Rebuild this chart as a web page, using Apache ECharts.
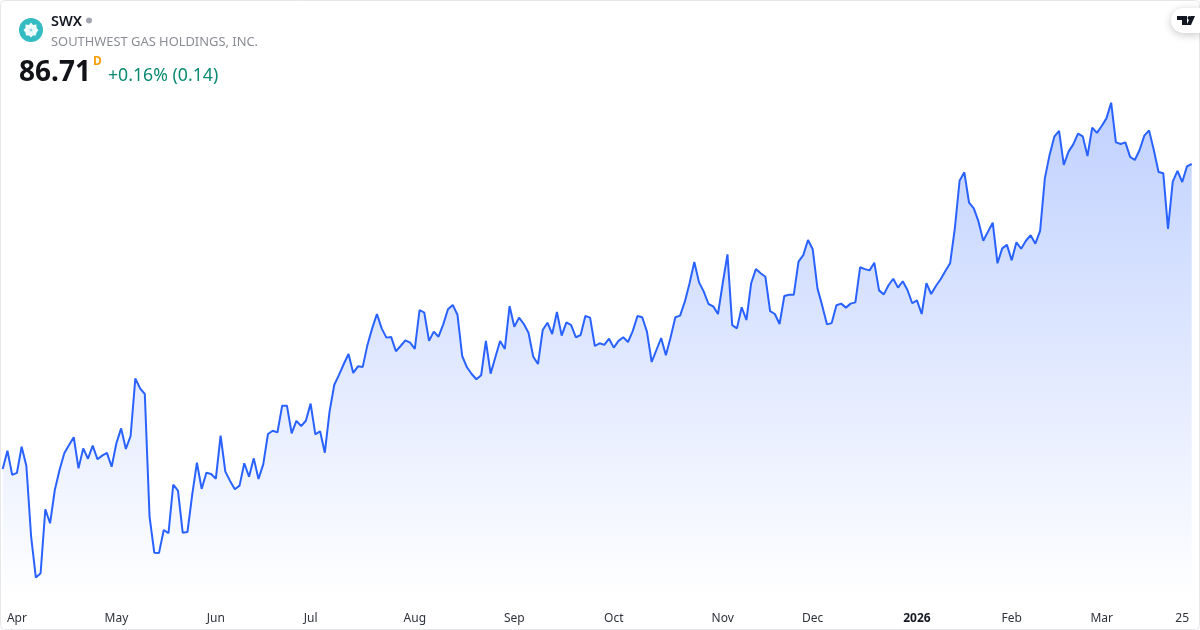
<!DOCTYPE html>
<html>
<head>
<meta charset="utf-8">
<style>html,body{margin:0;padding:0;background:#fff}#c{width:1200px;height:630px}</style>
<script src="https://cdn.jsdelivr.net/npm/echarts@6/dist/echarts.min.js"></script>
</head>
<body>
<div id="c"></div>
<script>
const prices = [
69.94,70.94,69.61,69.72,71.16,70.10,66.21,63.96,64.20,67.72,66.95,68.78,69.88,70.80,71.26,71.68,69.97,71.07,70.50,71.22,
70.47,70.67,70.82,70.06,71.35,72.17,71.04,71.75,74.92,74.37,74.06,67.31,65.33,65.32,66.58,66.40,69.07,68.74,66.43,66.47,
68.51,70.28,68.84,69.73,69.66,69.40,71.77,69.79,69.28,68.82,69.02,70.25,69.51,70.52,69.39,70.19,71.86,72.04,71.95,73.42,
73.42,71.90,72.58,72.30,72.59,73.53,71.84,72.01,70.83,73.09,74.57,75.11,75.71,76.26,75.22,75.58,75.55,76.76,77.67,78.46,
77.67,77.16,77.20,76.41,76.70,77.01,76.88,76.54,78.68,78.53,76.98,77.49,77.21,77.89,78.72,78.96,78.42,76.15,75.53,75.16,
74.87,75.09,76.98,75.18,76.08,76.98,76.54,78.90,77.76,78.26,77.91,77.43,76.11,75.71,77.58,77.98,77.36,78.57,77.27,78.00,
77.85,77.18,77.30,78.35,78.26,76.70,76.85,76.76,77.10,76.61,76.98,77.18,76.92,77.52,78.35,78.28,77.49,75.82,76.48,77.14,
76.19,77.18,78.28,78.37,79.14,80.15,81.32,80.20,79.69,79.01,78.88,78.46,80.15,81.74,77.85,77.67,78.83,78.13,80.15,80.93,
80.70,80.51,78.62,78.46,77.91,79.45,79.52,79.52,81.34,81.70,82.53,82.02,79.87,78.92,77.89,77.96,78.94,79.03,78.81,79.03,
79.10,81.03,80.93,80.86,81.28,79.76,79.54,80.04,80.40,79.91,80.26,79.78,79.05,79.21,78.46,80.16,79.56,80.00,80.37,80.82,
81.25,83.17,85.79,86.25,84.58,84.27,83.54,82.49,82.99,83.48,81.25,82.07,82.26,81.41,82.40,82.05,82.49,82.79,82.33,83.03,
85.92,87.21,88.21,88.53,86.66,87.39,87.79,88.38,88.23,87.15,88.71,88.42,88.80,89.22,90.08,87.90,87.81,87.90,87.10,86.93,
87.48,88.27,88.56,87.48,86.27,86.20,83.14,85.74,86.33,85.72,86.58,86.71
];
const tickIndex = [3,24,45,65,87,108,129,152,171,193,213,232,249];
const tickLabels = ['Apr','May','Jun','Jul','Aug','Sep','Oct','Nov','Dec','2026','Feb','Mar','25'];
const boldTicks = ['2026'];
const categories = prices.map((_, i) => i);

const chart = echarts.init(document.getElementById('c'), null, {renderer:'canvas'});
const FONT = '"Noto Sans","Open Sans",sans-serif';
chart.setOption({
  animation:false,
  backgroundColor:'#fff',
  grid:{left:2.7,right:8.3,top:0,bottom:30},
  xAxis:{
    type:'category',boundaryGap:false,data:categories,
    axisLine:{show:false},axisTick:{show:false},splitLine:{show:false},
    axisLabel:{
      interval:(i)=>tickIndex.includes(i),
      hideOverlap:false,
      margin:13,fontFamily:FONT,fontSize:12,color:'#2e323b',
      formatter:(v)=>{
        const p=tickIndex.indexOf(Number(v));
        if(p<0) return '';
        const t=tickLabels[p];
        return boldTicks.includes(t)?'{b|'+t+'}':t;
      },
      rich:{b:{fontWeight:'bold',fontFamily:FONT,fontSize:12,color:'#131722'}}
    }
  },
  yAxis:{type:'value',min:62.73,max:95.73,show:false,splitLine:{show:false}},
  series:[{
    type:'line',data:prices,showSymbol:false,smooth:false,
    lineStyle:{color:'#2962FF',width:2},
    itemStyle:{color:'#2962FF'},
    areaStyle:{color:new echarts.graphic.LinearGradient(0,0,0,1,[
      {offset:0,color:'rgba(41,98,255,0.42)'},
      {offset:1,color:'rgba(41,98,255,0.0)'}
    ])}
  }],
  graphic:[
    {type:'rect',silent:true,z:100,shape:{x:0.5,y:0.5,width:1199,height:629,r:4},style:{fill:'none',stroke:'#e6e7ea',lineWidth:1}},
    {type:'circle',z:100,shape:{cx:31,cy:30,r:12},style:{fill:'#35bcc2'}},
    {type:'polygon',z:101,shape:{points:[[31,22.5],[33,25],[36.5,24.5],[36.5,28],[38.5,30],[36.5,32.5],[36,35.5],[33,35.5],[31,37.5],[29,35.5],[26,35.5],[25.5,32.5],[23.5,30],[25.5,28],[25.5,24.5],[29,25]]},style:{fill:'#f0fbfb'}},
    {type:'circle',z:102,shape:{cx:31,cy:30,r:1.5},style:{fill:'#8fdcdf'}},
    {type:'text',z:100,style:{x:51,y:22,text:'SWX',fill:'#131722',font:'600 14.5px '+FONT,verticalAlign:'middle'}},
    {type:'circle',z:100,shape:{cx:89,cy:20.5,r:3},style:{fill:'#a3a6af'}},
    {type:'text',z:100,style:{x:51,y:42,text:'SOUTHWEST GAS HOLDINGS, INC.',fill:'#8a8d94',font:'12.9px '+FONT,verticalAlign:'middle'}},
    {type:'text',z:100,style:{x:19,y:73.5,text:'86.71',fill:'#111318',font:'bold 28px '+FONT,verticalAlign:'middle'}},
    {type:'text',z:100,style:{x:93,y:62,text:'D',fill:'#f59f0a',font:'bold 12px '+FONT,verticalAlign:'middle'}},
    {type:'text',z:100,style:{x:108,y:76,text:'+0.16% (0.14)',fill:'#0b8a72',font:'17.7px '+FONT,verticalAlign:'middle'}},
    {type:'rect',z:100,shape:{x:1171,y:8,width:30,height:25,r:[12.5,0,0,12.5]},style:{fill:'#fff',shadowBlur:8,shadowColor:'rgba(0,0,0,0.22)',shadowOffsetY:2}},
    {type:'polygon',z:101,shape:{points:[[1177,16],[1187,16],[1187,25],[1182,25],[1182,20],[1177,20]]},style:{fill:'#131722'}},
    {type:'circle',z:101,shape:{cx:1189.5,cy:18,r:2},style:{fill:'#131722'}},
    {type:'polygon',z:101,shape:{points:[[1191,16],[1195,16],[1191,25],[1186.5,25]]},style:{fill:'#131722'}}
  ]
});
</script>
</body>
</html>
